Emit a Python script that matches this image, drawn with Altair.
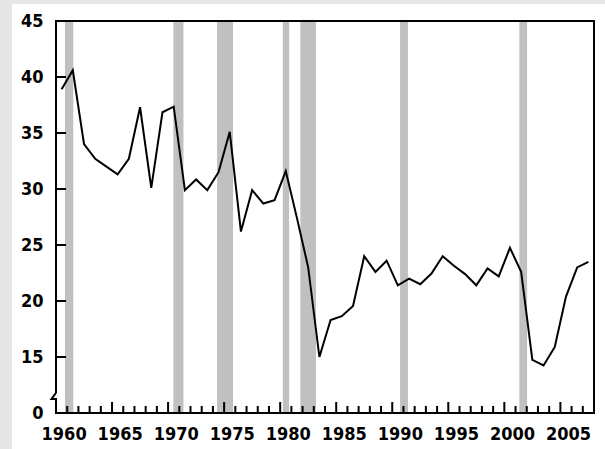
import altair as alt
import pandas as pd

# Annual series, 1960-2007
years = list(range(1960, 2008))
values = [
    38.9, 40.6, 34.0, 32.7, 32.0, 31.3, 32.7, 37.3, 30.1, 36.85,
    37.35, 29.9, 30.85, 29.9, 31.5, 35.1, 26.2, 29.9, 28.7, 29.0,
    31.6, 27.4, 23.0, 15.0, 18.3, 18.65, 19.55, 24.0, 22.6, 23.6,
    21.4, 22.0, 21.5, 22.45, 24.0, 23.15, 22.4, 21.4, 22.9, 22.2,
    24.75, 22.6, 14.75, 14.25, 15.9, 20.4, 23.0, 23.5,
]

# Shaded recession periods (fractional years)
rec_start = [1960.3, 1969.97, 1973.87, 1979.74, 1981.3, 1990.2, 2000.84]
rec_end = [1961.04, 1970.87, 1975.3, 1980.3, 1982.7, 1990.9, 2001.53]

# Axis labelling
x_labels = list(range(1960, 2006, 5))
y_ticks = [10, 15, 20, 25, 30, 35, 40, 45]

W, H = 538, 392
FONT = "DejaVu Sans Condensed, DejaVu Sans"
FONT_SIZE = 18
GRAY_BG = "#e6e6e6"

series = pd.DataFrame({"year": years, "value": values})
recessions = pd.DataFrame({"start": rec_start, "end": rec_end})
minor_ticks = pd.DataFrame({"t": [y + 0.5 for y in range(1960, 2007) if (y + 0.5 - 1964.5) % 5 != 0]})
major_ticks = pd.DataFrame({"t": [y + 0.5 for y in range(1964, 2007, 5)]})
inner_y_ticks = pd.DataFrame({"v": [15, 20, 25, 30, 35, 40]})

# Plot frame with a break mark on the value axis near zero
frame = pd.DataFrame({
    "fx": [1959.5, 1959.5, 2007.5, 2007.5, 1959.5, 1959.5, 1959.1, 1959.5],
    "fy": [11.79, 45, 45, 10, 10, 11.25, 11.25, 11.79],
    "i": list(range(8)),
})

xs = alt.Scale(domain=[1959.5, 2007.5], nice=False, zero=False)
ys = alt.Scale(domain=[10, 45], nice=False, zero=False)

x_axis = alt.Axis(
    values=x_labels, format="d", title=None, ticks=False, domain=False, grid=False,
    labelFont=FONT, labelFontSize=FONT_SIZE, labelFontWeight="bold", labelColor="black",
    labelPadding=12, labelOffset=2, labelFlush=False,
)
y_axis = alt.Axis(
    values=y_ticks, title=None, ticks=False, domain=False, grid=False,
    labelFont=FONT, labelFontSize=FONT_SIZE, labelFontWeight="bold", labelColor="black",
    labelPadding=13, labelExpr="datum.value == 10 ? '0' : datum.label",
)

one = alt.Data(values=[{}])

left_strip = alt.Chart(one).mark_rect(color=GRAY_BG).encode(
    x=alt.value(-56), x2=alt.value(-44), y=alt.value(-21), y2=alt.value(H + 36)
)
top_strip = alt.Chart(one).mark_rect(color=GRAY_BG).encode(
    x=alt.value(-44), x2=alt.value(W + 11), y=alt.value(-21), y2=alt.value(-17)
)

bars = alt.Chart(recessions).mark_rect(color="#c0c0c0").encode(
    x=alt.X("start:Q", scale=xs, axis=x_axis),
    x2="end:Q",
)

line = alt.Chart(series).mark_line(color="black", strokeWidth=2).encode(
    x=alt.X("year:Q", scale=xs),
    y=alt.Y("value:Q", scale=ys, axis=y_axis),
)

minor = alt.Chart(minor_ticks).mark_rule(color="black", strokeWidth=2).encode(
    x=alt.X("t:Q", scale=xs), y=alt.value(H), y2=alt.value(H - 7)
)
major = alt.Chart(major_ticks).mark_rule(color="black", strokeWidth=2).encode(
    x=alt.X("t:Q", scale=xs), y=alt.value(H), y2=alt.value(H - 11)
)
yt = alt.Chart(inner_y_ticks).mark_rule(color="black", strokeWidth=2).encode(
    y=alt.Y("v:Q", scale=ys), x=alt.value(0), x2=alt.value(10)
)

border = alt.Chart(frame).mark_line(color="black", strokeWidth=2, strokeJoin="miter").encode(
    x=alt.X("fx:Q", scale=xs),
    y=alt.Y("fy:Q", scale=ys),
    order="i:Q",
)

chart = alt.layer(
    left_strip, top_strip, bars, line, minor, major, yt, border
).properties(
    width=W, height=H,
    padding={"left": 56, "top": 21, "right": 11, "bottom": 36},
    autosize=alt.AutoSizeParams(type="none"),
    background="white",
).configure_view(stroke=None)

chart.save("out.html", embed_options={"renderer": "svg", "actions": False})
